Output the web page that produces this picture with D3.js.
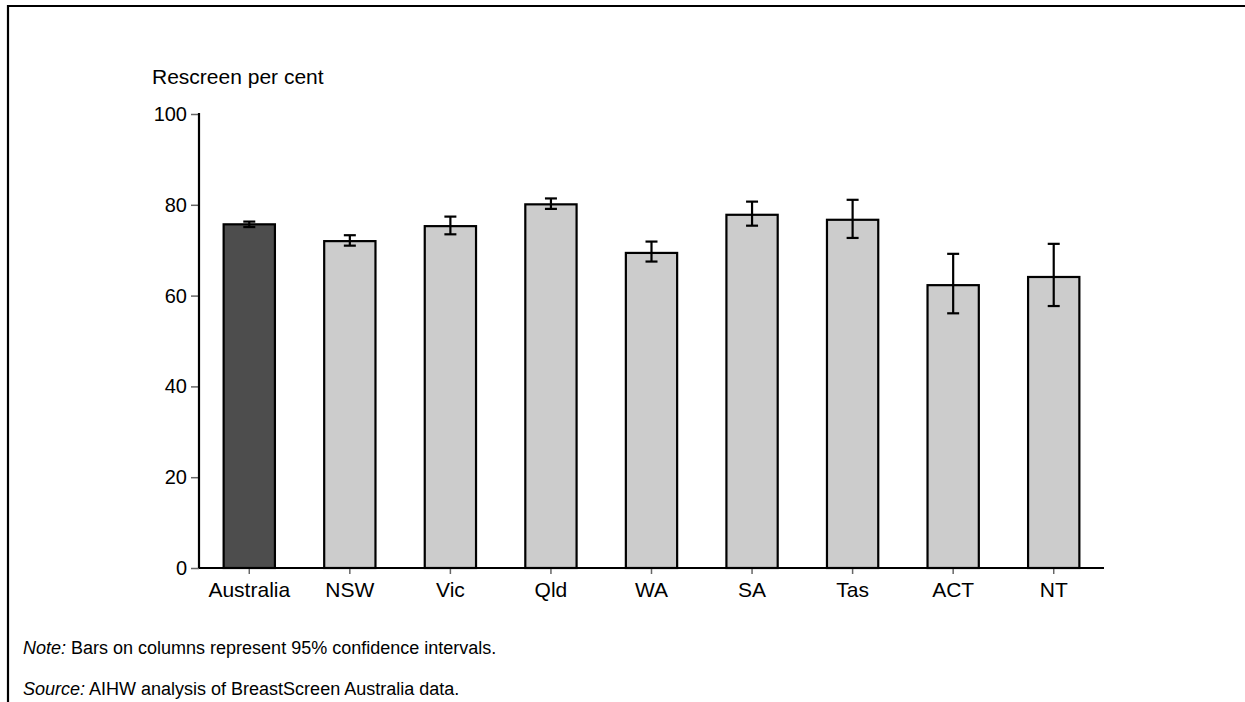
<!DOCTYPE html>
<html>
<head>
<meta charset="utf-8">
<script src="https://cdn.jsdelivr.net/npm/d3@7"></script>
<style>
  html, body { margin: 0; padding: 0; background: #fff; }
  svg { display: block; font-family: "Liberation Sans", Arial, sans-serif; }
</style>
</head>
<body>
<svg id="chart" width="1245" height="702"></svg>
<script>
const categories = ["Australia", "NSW", "Vic", "Qld", "WA", "SA", "Tas", "ACT", "NT"];
const values     = [75.7, 72.0, 75.3, 80.1, 69.4, 77.8, 76.7, 62.3, 64.1];
const ciLow      = [75.1, 71.0, 73.5, 79.1, 67.5, 75.4, 72.7, 56.1, 57.7];
const ciHigh     = [76.3, 73.3, 77.4, 81.4, 71.9, 80.7, 81.1, 69.2, 71.4];
const yTicks     = [0, 20, 40, 60, 80, 100];

(function () {
const svg = d3.select("#chart");

// frame
svg.append("path")
  .attr("d", "M8,702 L8,6 L1245,6")
  .attr("fill", "none").attr("stroke", "#000").attr("stroke-width", 2.2);

const pLeft = 199, pRight = 1104, pTop = 114, pBottom = 568;

const x = d3.scaleBand().domain(categories).range([pLeft, pRight])
  .paddingInner(0.49).paddingOuter(0.245);
const y = d3.scaleLinear().domain([0, 100]).range([pBottom, pTop]);

// bars
const data = categories.map((c, i) => ({ c, v: values[i], lo: ciLow[i], hi: ciHigh[i] }));
svg.append("g").selectAll("rect").data(data).join("rect")
  .attr("x", d => x(d.c))
  .attr("y", d => y(d.v))
  .attr("width", x.bandwidth())
  .attr("height", d => y(0) - y(d.v))
  .attr("fill", (d, i) => i === 0 ? "#4d4d4d" : "#cccccc")
  .attr("stroke", "#000").attr("stroke-width", 2.2);

// error bars
const eb = svg.append("g").attr("stroke", "#000").attr("stroke-width", 2.2).attr("fill", "none");
data.forEach(d => {
  const cx = x(d.c) + x.bandwidth() / 2;
  eb.append("line").attr("x1", cx).attr("x2", cx).attr("y1", y(d.hi)).attr("y2", y(d.lo));
  eb.append("line").attr("x1", cx - 6).attr("x2", cx + 6).attr("y1", y(d.hi)).attr("y2", y(d.hi));
  eb.append("line").attr("x1", cx - 6).attr("x2", cx + 6).attr("y1", y(d.lo)).attr("y2", y(d.lo));
});

// y axis
const yAxis = svg.append("g").attr("transform", `translate(${pLeft},0)`)
  .call(d3.axisLeft(y).tickValues(yTicks).tickSize(8).tickPadding(4).tickFormat(d3.format("d")));
yAxis.select(".domain").remove();
yAxis.selectAll(".tick line").attr("stroke", "#666").attr("stroke-width", 1.5);
yAxis.selectAll(".tick text").attr("font-size", 20).attr("fill", "#000")
  .attr("font-family", "Liberation Sans, Arial, sans-serif");
svg.append("line").attr("x1", pLeft).attr("x2", pLeft).attr("y1", pTop - 1).attr("y2", pBottom)
  .attr("stroke", "#000").attr("stroke-width", 2.2);

// x axis
const xAxis = svg.append("g").attr("transform", `translate(0,${pBottom})`)
  .call(d3.axisBottom(x).tickSize(6).tickPadding(8));
xAxis.select(".domain").remove();
xAxis.selectAll(".tick line").attr("stroke", "#666").attr("stroke-width", 1.5);
xAxis.selectAll(".tick text").attr("font-size", 21).attr("fill", "#000")
  .attr("font-family", "Liberation Sans, Arial, sans-serif");
svg.append("line").attr("x1", pLeft).attr("x2", pRight).attr("y1", pBottom).attr("y2", pBottom)
  .attr("stroke", "#000").attr("stroke-width", 2.2);

// title
svg.append("text").attr("x", 152).attr("y", 84).attr("font-size", 21)
  .text("Rescreen per cent");

// notes
const n1 = svg.append("text").attr("x", 23).attr("y", 654).attr("font-size", 18);
n1.append("tspan").attr("font-style", "italic").text("Note:");
n1.append("tspan").text(" Bars on columns represent 95% confidence intervals.");
const n2 = svg.append("text").attr("x", 23).attr("y", 695).attr("font-size", 18);
n2.append("tspan").attr("font-style", "italic").text("Source:");
n2.append("tspan").text(" AIHW analysis of BreastScreen Australia data.");
})();
</script>
</body>
</html>
